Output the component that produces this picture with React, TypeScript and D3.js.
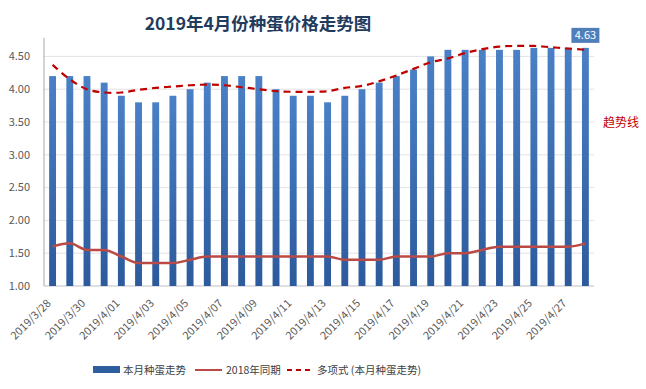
import { useMemo } from 'react';
import * as d3 from 'd3';

const dates = [
  '2019/3/28', '2019/3/29', '2019/3/30', '2019/3/31',
  '2019/4/01', '2019/4/02', '2019/4/03', '2019/4/04', '2019/4/05', '2019/4/06',
  '2019/4/07', '2019/4/08', '2019/4/09', '2019/4/10', '2019/4/11', '2019/4/12',
  '2019/4/13', '2019/4/14', '2019/4/15', '2019/4/16', '2019/4/17', '2019/4/18',
  '2019/4/19', '2019/4/20', '2019/4/21', '2019/4/22', '2019/4/23', '2019/4/24',
  '2019/4/25', '2019/4/26', '2019/4/27', '2019/4/28'
];

// 本月种蛋走势
const thisMonth = [
  4.2, 4.2, 4.2, 4.1, 3.9, 3.8, 3.8, 3.9, 4.0, 4.1, 4.2, 4.2, 4.2, 4.0, 3.9, 3.9,
  3.8, 3.9, 4.0, 4.1, 4.2, 4.3, 4.5, 4.6, 4.6, 4.6, 4.6, 4.6, 4.63, 4.63, 4.63, 4.63
];

// 2018年同期
const lastYear = [
  1.6, 1.65, 1.55, 1.55, 1.45, 1.35, 1.35, 1.35, 1.4, 1.45, 1.45, 1.45, 1.45, 1.45, 1.45, 1.45,
  1.45, 1.4, 1.4, 1.4, 1.45, 1.45, 1.45, 1.5, 1.5, 1.55, 1.6, 1.6, 1.6, 1.6, 1.6, 1.65
];

// 多项式 (本月种蛋走势)
const trend = [
  4.37, 4.15, 4.0, 3.95, 3.95, 3.99, 4.02, 4.04, 4.06, 4.07, 4.06, 4.03, 4.0, 3.97, 3.96, 3.96,
  3.97, 4.02, 4.05, 4.12, 4.21, 4.31, 4.41, 4.47, 4.55, 4.61, 4.65, 4.66, 4.66, 4.64, 4.62, 4.6
];

const yTicks = [1.0, 1.5, 2.0, 2.5, 3.0, 3.5, 4.0, 4.5];

const W = 646;
const H = 389;
const margin = { top: 40, right: 52, bottom: 103, left: 44 };

export default function App() {
  const innerW = W - margin.left - margin.right;
  const innerH = H - margin.top - margin.bottom;

  const x = useMemo(() => d3.scaleBand<string>().domain(dates).range([0, innerW]).paddingInner(0.6).paddingOuter(0.3), [innerW]);
  const y = useMemo(() => d3.scaleLinear().domain([1, 4.75]).range([innerH, 0]), [innerH]);
  const cx = (i: number) => (x(dates[i]) ?? 0) + x.bandwidth() / 2;

  const lineLast = d3.line<number>().x((_, i) => cx(i)).y(d => y(d)).curve(d3.curveMonotoneX);
  const lineTrend = d3.line<number>().x((_, i) => cx(i)).y(d => y(d)).curve(d3.curveCatmullRom);

  const font = '"Microsoft YaHei", "Noto Sans CJK SC", "Noto Sans", sans-serif';
  const lastIdx = dates.length - 1;

  return (
    <svg width={W} height={H} style={{ position: 'fixed', left: 0, top: 0, background: '#fff' }} fontFamily={font}>
      <defs>
        <linearGradient id="barGrad" x1="0" y1="0" x2="0" y2="1">
          <stop offset="0%" stopColor="#4A80C6" />
          <stop offset="100%" stopColor="#2C5A9C" />
        </linearGradient>
      </defs>

      <text x={258} y={30} textAnchor="middle" fontSize={17.5} fontWeight="bold" fill="#1F3B5E">
        2019年4月份种蛋价格走势图
      </text>

      <g transform={`translate(${margin.left},${margin.top})`}>
        {yTicks.map(t => (
          <g key={t}>
            <line x1={0} x2={innerW} y1={y(t)} y2={y(t)} stroke={t === 1 ? '#BFBFBF' : '#E3E3E3'} />
            <text x={-14} y={y(t)} dy="0.35em" textAnchor="end" fontSize={11} fill="#595959">
              {t.toFixed(2)}
            </text>
          </g>
        ))}
        <line x1={0} x2={0} y1={-2} y2={innerH} stroke="#A6A6A6" />

        {thisMonth.map((v, i) => (
          <rect key={dates[i]} x={x(dates[i])} y={y(v)} width={x.bandwidth()} height={innerH - y(v)} fill="url(#barGrad)" />
        ))}

        <path d={lineLast(lastYear) ?? ''} fill="none" stroke="#B94A45" strokeWidth={2.5} />
        <path d={lineTrend(trend) ?? ''} fill="none" stroke="#C00000" strokeWidth={2.2} strokeDasharray="7,5" />

        {dates.map((d, i) => i % 2 === 0 && (
          <text key={d} transform={`translate(${cx(i) - 1},${innerH + 18}) rotate(-45)`} textAnchor="end" fontSize={11} fill="#595959">
            {d}
          </text>
        ))}

        <g transform={`translate(${cx(lastIdx)},${y(thisMonth[lastIdx]) - 13})`}>
          <rect x={-14} y={-7} width={28} height={15} fill="#4F7FBA" />
          <text x={0} y={0.5} dy="0.35em" textAnchor="middle" fontSize={11} fill="#fff">
            {thisMonth[lastIdx].toFixed(2)}
          </text>
        </g>
      </g>

      <text x={603} y={127} fontSize={12} fill="#C00000">趋势线</text>

      <g transform="translate(0,370)" fontSize={10.5} fill="#404040">
        <rect x={93} y={-4} width={27} height={7} fill="#2F5E9E" />
        <text x={123} y={0} dy="0.35em">本月种蛋走势</text>
        <line x1={195} x2={222} y1={0} y2={0} stroke="#B94A45" strokeWidth={2} />
        <text x={226} y={0} dy="0.35em">2018年同期</text>
        <line x1={287} x2={314} y1={0} y2={0} stroke="#C00000" strokeWidth={2} strokeDasharray="5,4" />
        <text x={317} y={0} dy="0.35em">多项式 (本月种蛋走势)</text>
      </g>
    </svg>
  );
}
